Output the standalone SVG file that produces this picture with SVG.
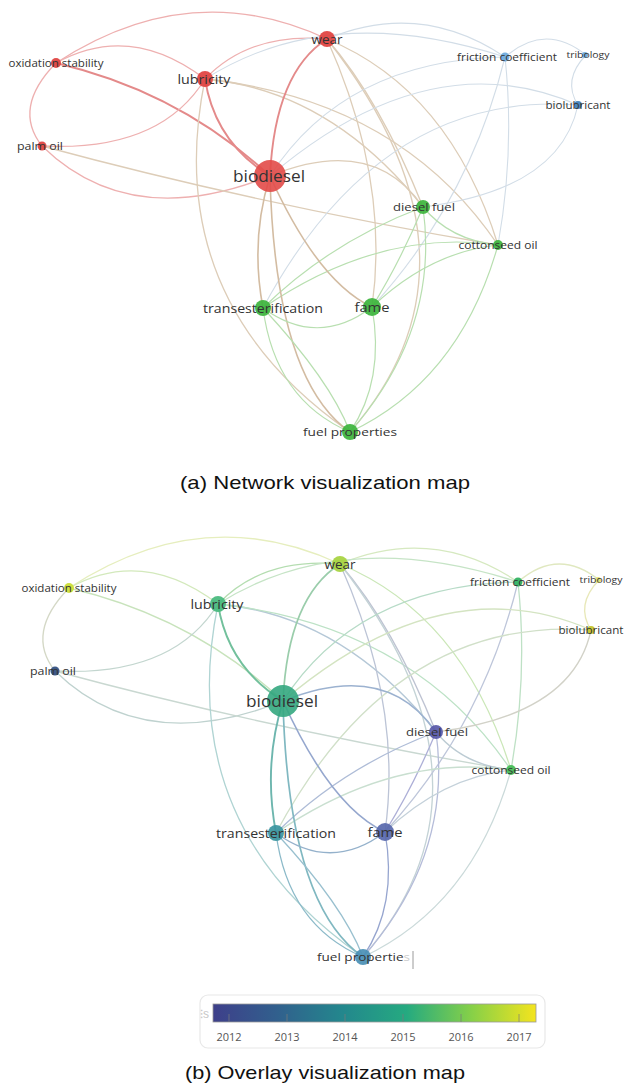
<svg xmlns="http://www.w3.org/2000/svg" xmlns:xlink="http://www.w3.org/1999/xlink" width="627" height="1086" viewBox="0 0 627 1086">
<style>
  .e { fill: none; stroke-linecap: round; }
  .r { stroke: #eeb0b0; stroke-width: 1.3; }
  .rt { stroke: #e48a8a; stroke-width: 1.9; }
  .rg { stroke: #ddcdb8; stroke-width: 1.3; }
  .g { stroke: #b8dfb0; stroke-width: 1.2; }
  .b { stroke: #d2dde7; stroke-width: 1.1; }
  .bw { stroke: #d3bca2; stroke-width: 1.6; }
  .lbl { font-family: "Open Sans", "Liberation Sans", sans-serif; fill: #333; text-anchor: middle; }
  .lbls { font-family: "Open Sans", "Liberation Sans", sans-serif; fill: #333; text-anchor: start; }
  .cap { font-family: "Liberation Sans", "Open Sans", sans-serif; fill: #111; text-anchor: middle; font-size: 19px; }
  .tick { font-family: "Open Sans", "Liberation Sans", sans-serif; fill: #555; text-anchor: middle; font-size: 11px; }
  .red { fill: #e0403e; fill-opacity: 0.92; }
  .grn { fill: #3cb43c; fill-opacity: 0.92; }
  .blu { fill: #6aa8dc; fill-opacity: 0.92; }
</style>
<defs>
  <linearGradient id="viridis" x1="0" y1="0" x2="1" y2="0">
    <stop offset="0" stop-color="#3e3f8a"/>
    <stop offset="0.2" stop-color="#31608d"/>
    <stop offset="0.4" stop-color="#23878d"/>
    <stop offset="0.6" stop-color="#25aa80"/>
    <stop offset="0.8" stop-color="#86d048"/>
    <stop offset="1" stop-color="#f4e41e"/>
  </linearGradient>
  <path id="e1" class="e" d="M56,63 Q190,-25 327,39"/>
  <path id="e2" class="e" d="M327,39 Q420,0 505,57"/>
  <path id="e3" class="e" d="M56,63 Q130,22 205,79"/>
  <path id="e4" class="e" d="M56,63 Q180,92 270,176"/>
  <path id="e5" class="e" d="M56,63 Q12,108 42,146"/>
  <path id="e6" class="e" d="M42,146 Q130,232 270,176"/>
  <path id="e7" class="e" d="M42,146 Q160,152 205,79"/>
  <path id="e8" class="e" d="M42,146 Q260,205 498,245"/>
  <path id="e9" class="e" d="M205,79 Q215,142 270,176"/>
  <path id="e10" class="e" d="M205,79 Q160,300 350,432"/>
  <path id="e11" class="e" d="M205,79 Q330,90 423,207"/>
  <path id="e12" class="e" d="M205,79 Q400,100 498,245"/>
  <path id="e13" class="e" d="M205,79 Q250,32 327,39"/>
  <path id="e14" class="e" d="M205,79 Q330,0 505,57"/>
  <path id="e15" class="e" d="M327,39 Q275,72 270,176"/>
  <path id="e16" class="e" d="M327,39 Q380,100 423,207"/>
  <path id="e17" class="e" d="M327,39 Q450,90 498,245"/>
  <path id="e18" class="e" d="M327,39 Q390,180 372,307"/>
  <path id="e19" class="e" d="M327,39 Q500,260 350,432"/>
  <path id="e20" class="e" d="M505,57 Q345,60 270,176"/>
  <path id="e21" class="e" d="M505,57 Q515,150 498,245"/>
  <path id="e22" class="e" d="M505,57 Q470,200 372,307"/>
  <path id="e23" class="e" d="M505,57 Q545,22 586,55"/>
  <path id="e24" class="e" d="M586,55 Q562,80 578,105"/>
  <path id="e25" class="e" d="M578,105 Q430,40 270,176"/>
  <path id="e26" class="e" d="M578,105 Q560,190 423,207"/>
  <path id="e27" class="e" d="M578,105 Q380,90 263,308"/>
  <path id="e28" class="e" d="M423,207 Q373,134 270,176"/>
  <path id="e29" class="e" d="M423,207 Q400,262 372,307"/>
  <path id="e30" class="e" d="M423,207 Q330,242 263,308"/>
  <path id="e31" class="e" d="M423,207 Q440,330 350,432"/>
  <path id="e32" class="e" d="M423,207 Q450,240 498,245"/>
  <path id="e33" class="e" d="M498,245 Q430,252 372,307"/>
  <path id="e34" class="e" d="M498,245 Q380,228 263,308"/>
  <path id="e35" class="e" d="M498,245 Q460,380 350,432"/>
  <path id="e36" class="e" d="M270,176 Q318,282 372,307"/>
  <path id="e37" class="e" d="M270,176 Q250,240 263,308"/>
  <path id="e39" class="e" d="M270,176 Q275,380 350,432"/>
  <path id="e40" class="e" d="M263,308 Q318,348 372,307"/>
  <path id="e41" class="e" d="M263,308 Q275,400 350,432"/>
  <path id="e42" class="e" d="M263,308 Q330,380 350,432"/>
  <path id="e43" class="e" d="M372,307 Q385,380 350,432"/>
</defs>
<rect width="627" height="1086" fill="#ffffff"/>

<!-- ============ Panel (a) ============ -->
<g id="connectors-a">
  <use xlink:href="#e1" class="r"/>
  <use xlink:href="#e2" class="b"/>
  <use xlink:href="#e3" class="r"/>
  <use xlink:href="#e4" class="rt"/>
  <use xlink:href="#e5" class="r"/>
  <use xlink:href="#e6" class="r"/>
  <use xlink:href="#e7" class="r"/>
  <use xlink:href="#e8" class="rg"/>
  <use xlink:href="#e9" class="rt"/>
  <use xlink:href="#e10" class="rg"/>
  <use xlink:href="#e11" class="rg"/>
  <use xlink:href="#e12" class="rg"/>
  <use xlink:href="#e13" class="r"/>
  <use xlink:href="#e14" class="b"/>
  <use xlink:href="#e15" class="rt"/>
  <use xlink:href="#e16" class="rg"/>
  <use xlink:href="#e17" class="rg"/>
  <use xlink:href="#e18" class="rg"/>
  <use xlink:href="#e19" class="rg"/>
  <use xlink:href="#e20" class="b"/>
  <use xlink:href="#e21" class="b"/>
  <use xlink:href="#e22" class="b"/>
  <use xlink:href="#e23" class="b"/>
  <use xlink:href="#e24" class="b"/>
  <use xlink:href="#e25" class="b"/>
  <use xlink:href="#e26" class="b"/>
  <use xlink:href="#e27" class="b"/>
  <use xlink:href="#e28" class="rg"/>
  <use xlink:href="#e29" class="g"/>
  <use xlink:href="#e30" class="g"/>
  <use xlink:href="#e31" class="g"/>
  <use xlink:href="#e32" class="g"/>
  <use xlink:href="#e33" class="g"/>
  <use xlink:href="#e34" class="g"/>
  <use xlink:href="#e35" class="g"/>
  <use xlink:href="#e36" class="bw"/>
  <use xlink:href="#e37" class="bw"/>
  <use xlink:href="#e39" class="bw"/>
  <use xlink:href="#e40" class="g"/>
  <use xlink:href="#e41" class="g"/>
  <use xlink:href="#e42" class="g"/>
  <use xlink:href="#e43" class="g"/>
</g>

<g id="a-oxidation-stability"><circle cx="56" cy="63" r="5" class="red"/><text class="lbl" x="56" y="66.5" font-size="10" textLength="95" lengthAdjust="spacingAndGlyphs">oxidation stability</text></g>
<g id="a-palm-oil"><circle cx="42" cy="146" r="4.5" class="red"/><text class="lbl" x="40" y="149.5" font-size="10.5" textLength="46" lengthAdjust="spacingAndGlyphs">palm oil</text></g>
<g id="a-lubricity"><circle cx="205" cy="79" r="8" class="red"/><text class="lbl" x="204" y="83.5" font-size="13" textLength="53" lengthAdjust="spacingAndGlyphs">lubricity</text></g>
<g id="a-wear"><circle cx="327" cy="39" r="8" class="red"/><text class="lbl" x="327" y="43.5" font-size="13" textLength="31" lengthAdjust="spacingAndGlyphs">wear</text></g>
<g id="a-biodiesel"><circle cx="270" cy="176" r="16" fill="#e24a48" fill-opacity="0.9"/><text class="lbl" x="269" y="181.5" font-size="16" textLength="72" lengthAdjust="spacingAndGlyphs">biodiesel</text></g>
<g id="a-friction-coefficient"><circle cx="505" cy="57" r="4.5" class="blu"/><text class="lbl" x="507" y="60.5" font-size="10" textLength="100" lengthAdjust="spacingAndGlyphs">friction coefficient</text></g>
<g id="a-tribology"><circle cx="585" cy="55" r="3" class="blu"/><text class="lbl" x="588" y="57.5" font-size="9" fill="#555" textLength="43" lengthAdjust="spacingAndGlyphs">tribology</text></g>
<g id="a-biolubricant"><circle cx="578" cy="105" r="4" fill="#4a88c0"/><text class="lbl" x="578" y="108.5" font-size="10" textLength="65" lengthAdjust="spacingAndGlyphs">biolubricant</text></g>
<g id="a-diesel-fuel"><circle cx="423" cy="207" r="7" class="grn"/><text class="lbl" x="424" y="211" font-size="11.5" textLength="62" lengthAdjust="spacingAndGlyphs">diesel fuel</text></g>
<g id="a-cottonseed-oil"><circle cx="498" cy="245" r="5" class="grn"/><text class="lbl" x="498" y="248.5" font-size="10.5" textLength="79" lengthAdjust="spacingAndGlyphs">cottonseed oil</text></g>
<g id="a-transesterification"><circle cx="263" cy="308" r="8" class="grn"/><text class="lbl" x="263" y="312.5" font-size="12.5" textLength="120" lengthAdjust="spacingAndGlyphs">transesterification</text></g>
<g id="a-fame"><circle cx="372" cy="307" r="9" class="grn"/><text class="lbl" x="372" y="311.5" font-size="13" textLength="35" lengthAdjust="spacingAndGlyphs">fame</text></g>
<g id="a-fuel-properties"><circle cx="350" cy="432" r="8" class="grn"/><text class="lbl" x="350" y="436" font-size="11.5" textLength="94" lengthAdjust="spacingAndGlyphs">fuel properties</text></g>

<text class="cap" x="325" y="489" textLength="290" lengthAdjust="spacingAndGlyphs">(a) Network visualization map</text>

<!-- ============ Panel (b) ============ -->
<g id="connectors-b" transform="translate(13,525)" stroke-width="1.3">
  <use xlink:href="#e1" stroke="#e6eebe"/>
  <use xlink:href="#e2" stroke="#d6e9c0"/>
  <use xlink:href="#e3" stroke="#d3e9bc"/>
  <use xlink:href="#e4" stroke="#c8e3bc"/>
  <use xlink:href="#e5" stroke="#d4d8c6"/>
  <use xlink:href="#e6" stroke="#bfd2cf"/>
  <use xlink:href="#e7" stroke="#c3d6cf"/>
  <use xlink:href="#e8" stroke="#c9d8d1"/>
  <use xlink:href="#e9" stroke="#72c09c" stroke-width="1.9"/>
  <use xlink:href="#e10" stroke="#b0d4d3"/>
  <use xlink:href="#e11" stroke="#b5c8d7"/>
  <use xlink:href="#e12" stroke="#bde2c6"/>
  <use xlink:href="#e13" stroke="#b4ddb0"/>
  <use xlink:href="#e14" stroke="#c6e4c6"/>
  <use xlink:href="#e15" stroke="#9acdab" stroke-width="1.7"/>
  <use xlink:href="#e16" stroke="#bec3d2"/>
  <use xlink:href="#e17" stroke="#cbe7b8"/>
  <use xlink:href="#e18" stroke="#bcc4d6"/>
  <use xlink:href="#e19" stroke="#c4d3d6"/>
  <use xlink:href="#e20" stroke="#b7dbc7"/>
  <use xlink:href="#e21" stroke="#bee1c5"/>
  <use xlink:href="#e22" stroke="#bec6da"/>
  <use xlink:href="#e23" stroke="#e0e8c0"/>
  <use xlink:href="#e24" stroke="#e8e8b8"/>
  <use xlink:href="#e25" stroke="#d4e4c2"/>
  <use xlink:href="#e26" stroke="#d2d2c8"/>
  <use xlink:href="#e27" stroke="#d1e0c9"/>
  <use xlink:href="#e28" stroke="#9cb2d0" stroke-width="1.5"/>
  <use xlink:href="#e29" stroke="#adafd7"/>
  <use xlink:href="#e30" stroke="#aebcd7"/>
  <use xlink:href="#e31" stroke="#b5bcd9"/>
  <use xlink:href="#e32" stroke="#bccbd3"/>
  <use xlink:href="#e33" stroke="#c4d1da"/>
  <use xlink:href="#e34" stroke="#c9dfd0"/>
  <use xlink:href="#e35" stroke="#cbdada"/>
  <use xlink:href="#e36" stroke="#95a7ce" stroke-width="1.6"/>
  <use xlink:href="#e37" stroke="#6db6ae" stroke-width="1.9"/>
  <use xlink:href="#e39" stroke="#80b8c1" stroke-width="1.7"/>
  <use xlink:href="#e40" stroke="#94b1cb"/>
  <use xlink:href="#e41" stroke="#8cbac9"/>
  <use xlink:href="#e42" stroke="#99c0cf"/>
  <use xlink:href="#e43" stroke="#96a5cf"/>
</g>

<g id="b-oxidation-stability"><circle cx="69" cy="588" r="5" fill="#cfe040"/><text class="lbl" x="69" y="591.5" font-size="10" textLength="95" lengthAdjust="spacingAndGlyphs">oxidation stability</text></g>
<g id="b-palm-oil"><circle cx="55" cy="671" r="4.5" fill="#3e5a88"/><text class="lbl" x="53" y="674.5" font-size="10.5" textLength="46" lengthAdjust="spacingAndGlyphs">palm oil</text></g>
<g id="b-lubricity"><circle cx="218" cy="604" r="8" fill="#45b97c" fill-opacity="0.92"/><text class="lbl" x="217" y="608.5" font-size="13" textLength="53" lengthAdjust="spacingAndGlyphs">lubricity</text></g>
<g id="b-wear"><circle cx="340" cy="564" r="8" fill="#a6d23e" fill-opacity="0.92"/><text class="lbl" x="340" y="568.5" font-size="13" textLength="31" lengthAdjust="spacingAndGlyphs">wear</text></g>
<g id="b-biodiesel"><circle cx="283" cy="701" r="16" fill="#34a77f" fill-opacity="0.9"/><text class="lbl" x="282" y="706.5" font-size="16" textLength="72" lengthAdjust="spacingAndGlyphs">biodiesel</text></g>
<g id="b-friction-coefficient"><circle cx="518" cy="582" r="4.5" fill="#3cb66a"/><text class="lbl" x="520" y="585.5" font-size="10" textLength="100" lengthAdjust="spacingAndGlyphs">friction coefficient</text></g>
<g id="b-tribology"><circle cx="598" cy="580" r="3" fill="#e4e27a"/><text class="lbl" x="601" y="582.5" font-size="9" fill="#555" textLength="43" lengthAdjust="spacingAndGlyphs">tribology</text></g>
<g id="b-biolubricant"><circle cx="591" cy="630" r="4" fill="#c8c838"/><text class="lbl" x="591" y="633.5" font-size="10" textLength="65" lengthAdjust="spacingAndGlyphs">biolubricant</text></g>
<g id="b-diesel-fuel"><circle cx="436" cy="732" r="7" fill="#5858a8" fill-opacity="0.92"/><text class="lbl" x="437" y="736" font-size="11.5" textLength="62" lengthAdjust="spacingAndGlyphs">diesel fuel</text></g>
<g id="b-cottonseed-oil"><circle cx="511" cy="770" r="5" fill="#50c060"/><text class="lbl" x="511" y="773.5" font-size="10.5" textLength="79" lengthAdjust="spacingAndGlyphs">cottonseed oil</text></g>
<g id="b-transesterification"><circle cx="276" cy="833" r="8" fill="#3a95a0" fill-opacity="0.92"/><text class="lbl" x="276" y="837.5" font-size="12.5" textLength="120" lengthAdjust="spacingAndGlyphs">transesterification</text></g>
<g id="b-fame"><circle cx="385" cy="832" r="9" fill="#5868ac" fill-opacity="0.92"/><text class="lbl" x="385" y="836.5" font-size="13" textLength="35" lengthAdjust="spacingAndGlyphs">fame</text></g>
<g id="b-fuel-properties"><circle cx="363" cy="957" r="8" fill="#4a8fb5" fill-opacity="0.92"/><text class="lbls" x="317" y="961" font-size="11.5" textLength="93" lengthAdjust="spacingAndGlyphs">fuel propertie<tspan fill="#cccccc">s</tspan></text><line x1="413" y1="951" x2="413" y2="969" stroke="#9a9a9a" stroke-width="1"/></g>

<!-- colour legend -->
<g id="legend">
  <rect x="200" y="995" width="345" height="53" rx="8" fill="#ffffff" stroke="#e8e8e8" stroke-width="1.2"/>
  <text x="200" y="1018" font-family="Liberation Sans, sans-serif" font-size="12" fill="#c8c8c8">⁝s</text>
  <rect x="213" y="1004" width="323" height="18" fill="url(#viridis)" stroke="#9a9a9a" stroke-width="0.8"/>
  <g stroke="#7a7a7a" stroke-width="1" stroke-opacity="0.7">
    <line x1="229" y1="1014" x2="229" y2="1022"/>
    <line x1="287" y1="1014" x2="287" y2="1022"/>
    <line x1="345" y1="1014" x2="345" y2="1022"/>
    <line x1="403" y1="1014" x2="403" y2="1022"/>
    <line x1="461" y1="1014" x2="461" y2="1022"/>
    <line x1="519" y1="1014" x2="519" y2="1022"/>
  </g>
  <text class="tick" x="229" y="1041">2012</text>
  <text class="tick" x="287" y="1041">2013</text>
  <text class="tick" x="345" y="1041">2014</text>
  <text class="tick" x="403" y="1041">2015</text>
  <text class="tick" x="461" y="1041">2016</text>
  <text class="tick" x="519" y="1041">2017</text>
</g>

<text class="cap" x="325" y="1079" textLength="280" lengthAdjust="spacingAndGlyphs">(b) Overlay visualization map</text>
</svg>
